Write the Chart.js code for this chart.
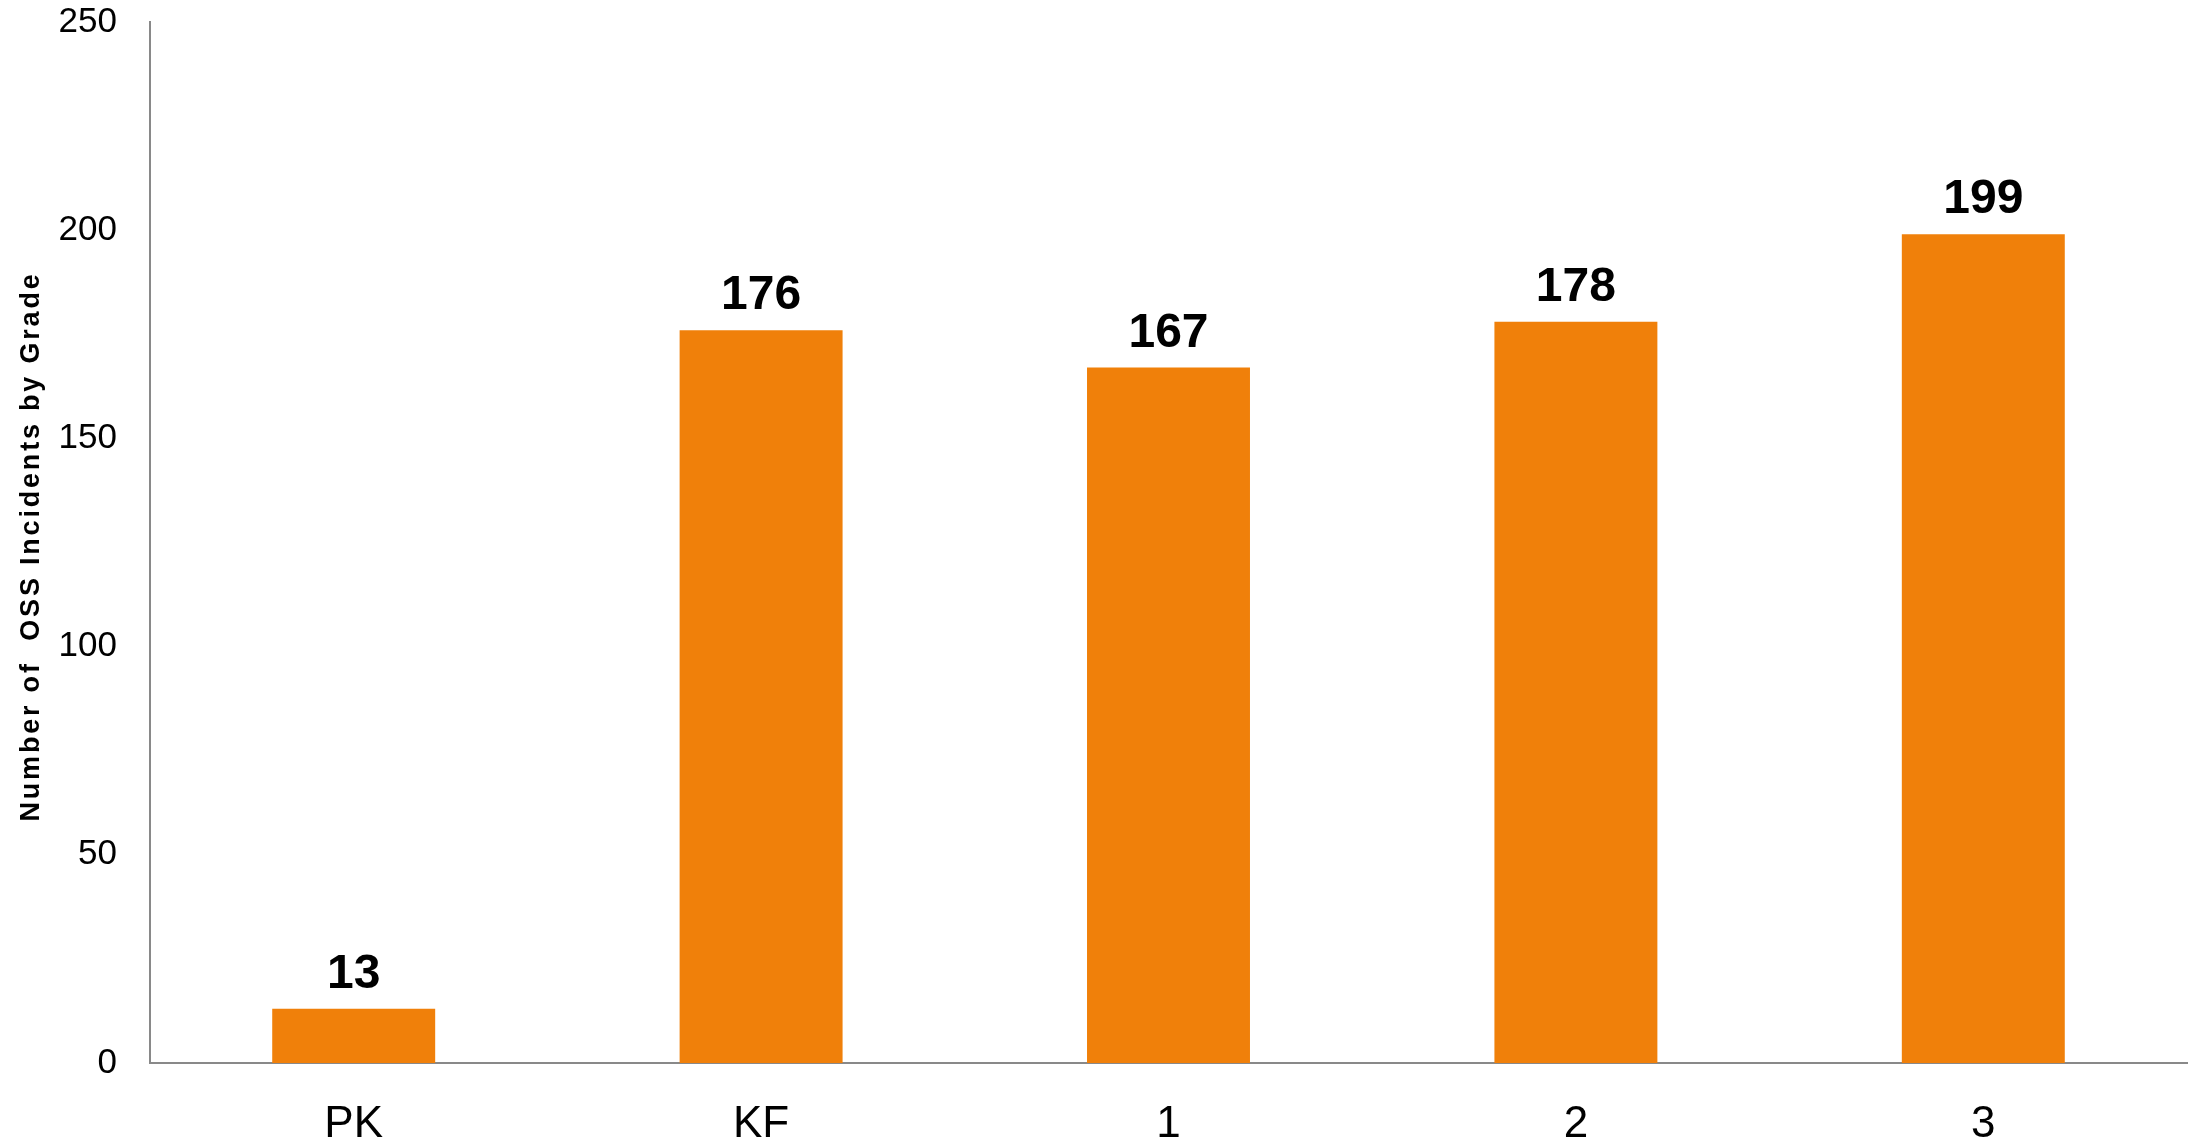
<!DOCTYPE html>
<html>
  <head>
    <title>OSS Incidents by Grade</title>
    <script src="https://cdn.jsdelivr.net/npm/chart.js"></script>
    <style>
      body {
        margin: 0;
        background: #fff;
      }
    </style>
  </head>
  <body>
    <canvas id="gradeChart" width="2194" height="1143"></canvas>

    <script>
      const grades = ["PK", "KF", "1", "2", "3"];
      const incidents = [13, 176, 167, 178, 199];
      const yTicks = [0, 50, 100, 150, 200, 250];
      const yTitle = "Number of  OSS Incidents by Grade";

      const fontFamily = "'Liberation Sans', Arial, sans-serif";

      // bold value above each bar
      const valueLabels = {
        id: "valueLabels",
        afterDatasetsDraw(chart) {
          const ctx = chart.ctx;
          const meta = chart.getDatasetMeta(0);
          ctx.save();
          ctx.font = "bold 48px " + fontFamily;
          ctx.fillStyle = "#000";
          ctx.textAlign = "center";
          ctx.textBaseline = "alphabetic";
          meta.data.forEach((bar, i) => {
            ctx.fillText(String(incidents[i]), bar.x, bar.y - 21);
          });
          ctx.restore();
        },
      };

      // rotated y title, drawn by hand so it can be letter-spaced like the original
      const yTitleLabel = {
        id: "yTitleLabel",
        afterDraw(chart) {
          const ctx = chart.ctx;
          const area = chart.chartArea;
          ctx.save();
          ctx.translate(32, (area.top + area.bottom) / 2 + 4);
          ctx.rotate(-Math.PI / 2);
          ctx.font = "bold 27px " + fontFamily;
          ctx.letterSpacing = "2.8px";
          ctx.fillStyle = "#000";
          ctx.textAlign = "center";
          ctx.textBaseline = "middle";
          ctx.fillText(yTitle, 0, 0);
          ctx.restore();
        },
      };

      new Chart(document.getElementById("gradeChart"), {
        type: "bar",
        data: {
          labels: grades,
          datasets: [
            {
              label: "OSS Incidents",
              data: incidents,
              backgroundColor: "#f0800a",
              borderWidth: 0,
              barPercentage: 0.4,
              categoryPercentage: 1,
            },
          ],
        },
        plugins: [valueLabels, yTitleLabel],
        options: {
          responsive: false,
          animation: false,
          devicePixelRatio: 1,
          layout: {
            padding: { top: 22, right: 7, left: 0, bottom: 0 },
          },
          plugins: {
            legend: { display: false },
            tooltip: { enabled: false },
          },
          scales: {
            x: {
              grid: { display: false, drawTicks: false },
              border: { display: true, color: "#898989", width: 2 },
              ticks: {
                color: "#000",
                padding: 35,
                font: { family: fontFamily, size: 44 },
              },
              afterFit(scale) {
                scale.height = 80;
                scale.paddingLeft = 0;
                scale.paddingRight = 0;
              },
            },
            y: {
              min: 0,
              max: 250,
              afterBuildTicks(scale) {
                scale.ticks = yTicks.map((v) => ({ value: v }));
              },
              grid: { display: false, drawTicks: false },
              border: { display: true, color: "#898989", width: 2 },
              ticks: {
                color: "#000",
                padding: 33,
                font: { family: fontFamily, size: 35 },
              },
              afterFit(scale) {
                scale.width = 150;
                scale.paddingTop = 0;
                scale.paddingBottom = 0;
              },
            },
          },
        },
      });
    </script>
  </body>
</html>
